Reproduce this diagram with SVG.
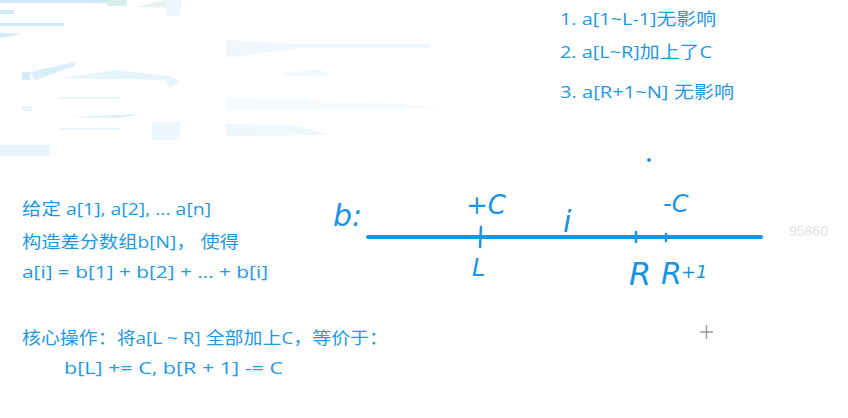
<svg xmlns="http://www.w3.org/2000/svg" width="848" height="418" viewBox="0 0 848 418">
<style>
.t{font-family:"Open Sans","Noto Sans CJK SC",sans-serif;font-size:17px;fill:#1f98e3}
.h{font-family:"DejaVu Sans",sans-serif;fill:#1a94e2;font-style:italic}
.ink{stroke:#1a94e2;stroke-linecap:round;fill:none}
.sm{fill:#8fcdf0}
</style>
<rect width="848" height="418" fill="#ffffff"/>
<g id="smudges" opacity="0.4">
<rect class="sm" x="0" y="0" width="120" height="3"/>
<rect x="107" y="0" width="20" height="6" fill="#9fd3cf"/>
<polygon points="135,7 166,0 181,0 181,8" fill="#c9e6e0"/>
<rect class="sm" x="0" y="10" width="14" height="4"/>
<rect class="sm" x="0" y="23" width="64" height="3"/>
<polygon class="sm" points="0,33 22,34 0,38"/>
<polygon points="30,72 75,62 75,66 35,80" fill="#a7d8f3"/>
<polygon points="60,78 115,70 170,76 180,82 170,88 165,80" fill="#c3e4f7"/>
<rect class="sm" x="22" y="72" width="8" height="8"/>
<rect x="60" y="97" width="60" height="2" fill="#c9e6f6"/>
<rect x="22" y="106" width="10" height="5" fill="#c9e6f6"/>
<polygon points="70,117 140,114 120,118" fill="#a9d8f3"/>
<rect x="60" y="128" width="60" height="2" fill="#c9e6f6"/>
<rect x="0" y="145" width="50" height="11" fill="#c5e5f6"/>
<rect x="152" y="122" width="28" height="18" fill="#d6ecf8"/>
<rect x="166" y="0" width="14" height="16" fill="#d6ecf8"/>
<polygon points="226,40 300,44 430,44 430,48 300,48 226,58" fill="#d8edf9"/>
<polygon points="280,73 320,70 330,75 290,76" fill="#d6ecf9"/>
<polygon points="226,98 300,100 400,104 440,108 226,110" fill="#e6f3fb"/>
<polygon points="226,124 300,126 330,135 226,136" fill="#d6edf9"/>
</g>
<g id="right-notes">
<text class="t" x="560" y="25" textLength="156" lengthAdjust="spacingAndGlyphs">1. a[1~L-1]无影响</text>
<text class="t" x="560" y="58" textLength="152" lengthAdjust="spacingAndGlyphs">2. a[L~R]加上了C</text>
<text class="t" x="560" y="98" textLength="174" lengthAdjust="spacingAndGlyphs">3. a[R+1~N] 无影响</text>
</g>
<g id="left-notes">
<text class="t" x="22" y="215" textLength="189" lengthAdjust="spacingAndGlyphs">给定 a[1], a[2], ... a[n]</text>
<text class="t" x="22" y="248" textLength="217" lengthAdjust="spacingAndGlyphs">构造差分数组b[N]， 使得</text>
<text class="t" x="22" y="278" textLength="246" lengthAdjust="spacingAndGlyphs">a[i] = b[1] + b[2] + ... + b[i]</text>
<text class="t" x="22" y="344" textLength="366" lengthAdjust="spacingAndGlyphs">核心操作：将a[L ~ R] 全部加上C，等价于：</text>
<text class="t" x="64" y="374" textLength="219" lengthAdjust="spacingAndGlyphs">b[L] += C, b[R + 1] -= C</text>
</g>
<g id="connectors">
<line class="ink" x1="368" y1="237" x2="761" y2="237" stroke-width="4"/>
<line class="ink" x1="481" y1="227" x2="480" y2="247" stroke-width="2.5"/>
<line class="ink" x1="636" y1="232" x2="636" y2="242" stroke-width="2.5"/>
<line class="ink" x1="666" y1="234" x2="666" y2="241" stroke-width="2.5"/>
<circle cx="649" cy="160" r="2" fill="#1a94e2"/>
</g>
<g id="handwriting">
<text class="h" x="333" y="226" font-size="30">b:</text>
<text class="h" x="466" y="214" font-size="26">+C</text>
<text class="h" x="563" y="232" font-size="30">i</text>
<text class="h" x="663" y="212" font-size="24">-C</text>
<text class="h" x="472" y="276" font-size="24">L</text>
<text class="h" x="629" y="285" font-size="32">R</text>
<text class="h" x="661" y="284" font-size="30">R</text>
<text class="h" x="681" y="278" font-size="18">+1</text>
</g>
<text x="789" y="236" font-family="Liberation Sans,sans-serif" font-size="14" fill="#e2e2e2">95860</text>
<g id="cursor" stroke="#9a9a9a" stroke-width="1.5">
<line x1="700" y1="332" x2="713" y2="332"/>
<line x1="706.5" y1="325" x2="706.5" y2="339"/>
</g>
</svg>
